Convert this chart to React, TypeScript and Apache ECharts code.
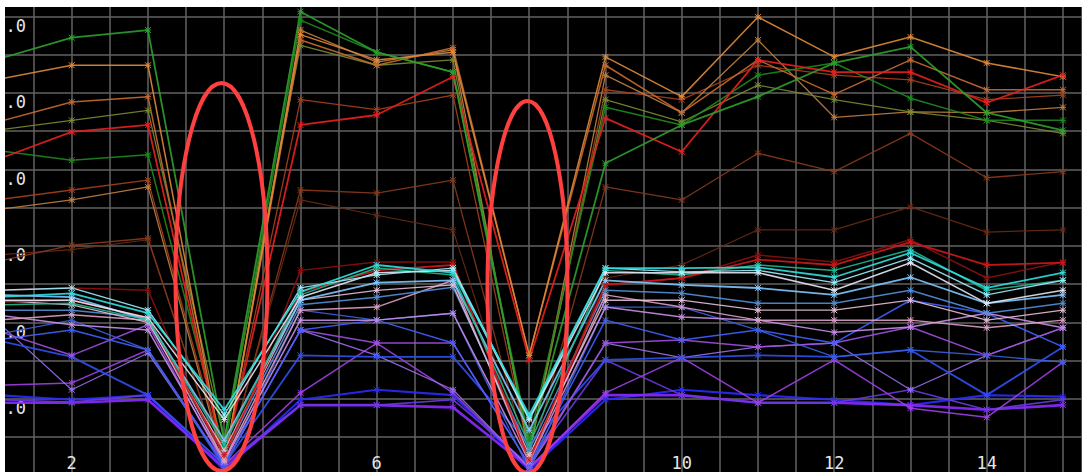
import { useEffect, useRef } from "react";
import * as echarts from "echarts";

// x positions of the samples
const xValues = [1, 2, 3, 4, 5, 6, 7, 8, 9, 10, 11, 12, 13, 14, 15];
// tick labels
const xTickLabels = ["2", "4", "6", "8", "10", "12", "14"];
const yTickValues = [1, 2, 3, 4, 5, 6];
const yTickText = ".0";

// upper (warm) series
const green1 = [5.43, 5.72, 5.82, 0.46, 6.06, 5.53, 5.27, 0.40, 4.08, 4.58, 4.95, 5.39, 5.60, 4.74, 4.51];
const orange1 = [5.17, 5.36, 5.36, 0.14, 5.76, 5.43, 5.53, 1.57, 5.47, 4.95, 5.99, 5.47, 5.73, 5.39, 5.21];
const orange2 = [4.61, 4.88, 4.95, 0.14, 5.69, 5.36, 5.59, 1.57, 5.36, 4.74, 5.43, 4.98, 5.43, 5.04, 5.04];
const red1 = [4.12, 4.49, 4.58, 0.20, 4.58, 4.71, 5.21, 1.51, 4.67, 4.23, 5.43, 5.27, 5.27, 4.87, 5.23];
const green2 = [4.25, 4.12, 4.19, 0.33, 5.95, 5.53, 5.27, 0.46, 4.81, 4.58, 5.23, 5.39, 4.93, 4.64, 4.64];
const tan1 = [3.47, 3.60, 3.77, 0.14, 5.82, 5.40, 5.56, 0.27, 5.23, 4.74, 5.69, 4.68, 4.75, 4.74, 4.81];
const brown1 = [2.79, 3.01, 3.10, 0.07, 3.73, 3.69, 3.86, 0.14, 3.77, 3.60, 4.21, 3.97, 4.47, 3.89, 3.97];
const olive1 = [4.51, 4.64, 4.77, 0.46, 5.62, 5.36, 5.43, 0.33, 4.91, 4.62, 5.10, 4.91, 4.75, 4.64, 4.47];
const rust1 = [3.60, 3.73, 3.86, 0.20, 4.91, 4.78, 4.97, 0.27, 5.04, 4.91, 5.36, 5.23, 5.17, 4.91, 4.97];
const brown2 = [2.88, 2.95, 3.08, 0.10, 3.60, 3.40, 3.21, 0.10, 2.58, 2.75, 3.21, 3.21, 3.51, 3.18, 3.21];
const darkRed1 = [2.42, 2.45, 2.42, 0.14, 2.68, 2.79, 2.79, 0.14, 2.49, 2.58, 2.88, 2.79, 3.08, 2.58, 2.79];

// lower (cool) series
const cyan1 = [2.33, 2.38, 2.12, 0.86, 2.40, 2.75, 2.65, 0.79, 2.71, 2.71, 2.72, 2.59, 2.91, 2.45, 2.65];
const white1 = [2.29, 2.29, 2.06, 0.73, 2.33, 2.65, 2.68, 0.73, 2.65, 2.65, 2.65, 2.42, 2.78, 2.25, 2.42];
const lightBlue1 = [2.36, 2.33, 2.03, 0.46, 2.29, 2.52, 2.55, 0.59, 2.55, 2.49, 2.45, 2.36, 2.59, 2.25, 2.36];
const red2 = [2.27, 2.29, 2.06, 0.27, 2.40, 2.68, 2.75, 0.20, 2.49, 2.58, 2.82, 2.75, 3.05, 2.75, 2.78];
const teal1 = [2.23, 2.25, 2.03, 0.40, 2.36, 2.71, 2.62, 0.40, 2.68, 2.62, 2.75, 2.68, 2.95, 2.42, 2.55];
const steel1 = [2.16, 2.16, 2.06, 0.27, 2.23, 2.33, 2.46, 0.33, 2.42, 2.38, 2.25, 2.25, 2.42, 2.12, 2.25];
const pink1 = [2.03, 2.10, 2.03, 0.20, 2.16, 2.20, 2.55, 0.20, 2.36, 2.20, 2.03, 2.03, 2.03, 1.93, 2.03];
const lavender1 = [2.10, 1.97, 1.90, 0.18, 2.03, 2.03, 2.12, 0.18, 2.20, 2.07, 2.03, 1.87, 1.94, 2.12, 1.93];
const blue1 = [1.77, 1.90, 1.64, 0.14, 1.90, 2.03, 1.73, 0.14, 2.03, 1.77, 1.90, 1.73, 2.29, 2.12, 1.68];
const purple1 = [1.90, 1.57, 1.97, 0.14, 1.90, 1.73, 1.73, 0.14, 1.73, 1.77, 1.68, 1.73, 1.94, 1.57, 1.93];
const blue2 = [1.77, 1.55, 1.05, 0.14, 1.57, 1.55, 1.55, 0.40, 1.51, 1.54, 1.57, 1.55, 1.64, 1.05, 1.68];
const purple2 = [1.18, 1.21, 1.64, 0.14, 1.08, 1.73, 1.08, 0.10, 1.08, 1.54, 0.95, 1.51, 0.88, 0.76, 1.48];
const purple3 = [0.95, 0.95, 0.99, 0.10, 0.92, 0.92, 0.89, 0.10, 1.05, 1.05, 0.95, 0.95, 0.92, 0.86, 0.92];
const violet1 = [0.99, 0.96, 1.05, 0.14, 0.92, 0.92, 0.99, 0.14, 1.51, 1.05, 0.95, 0.95, 1.12, 0.86, 0.99];
const blue3 = [1.84, 2.03, 1.64, 0.10, 2.16, 2.03, 2.12, 0.07, 2.20, 2.20, 1.90, 1.55, 1.64, 1.57, 1.48];
const violet2 = [2.03, 1.12, 1.60, 0.14, 1.90, 1.57, 1.12, 0.10, 1.73, 1.54, 1.68, 1.73, 1.12, 1.57, 1.93];
const cyan2 = [2.42, 2.45, 2.16, 0.79, 2.45, 2.62, 2.71, 0.75, 2.71, 2.66, 2.68, 2.52, 2.84, 2.36, 2.55];
const paleRose1 = [2.29, 2.23, 2.00, 0.33, 2.29, 2.42, 2.49, 0.27, 2.29, 2.29, 2.16, 2.16, 2.29, 2.03, 2.16];
const deepBlue1 = [1.05, 0.99, 1.05, 0.07, 0.99, 1.12, 1.05, 0.07, 0.99, 1.12, 1.05, 0.99, 0.92, 1.05, 1.03];

const seriesList = [
  { name: "brown2", values: brown2, color: "#6a2a14", width: 1.2 },
  { name: "darkRed1", values: darkRed1, color: "#8a1010", width: 1.5 },
  { name: "brown1", values: brown1, color: "#8a3a1c", width: 1.3 },
  { name: "rust1", values: rust1, color: "#a8401c", width: 1.3 },
  { name: "tan1", values: tan1, color: "#c08040", width: 1.3 },
  { name: "olive1", values: olive1, color: "#7a8a30", width: 1.3 },
  { name: "green2", values: green2, color: "#1f8a1f", width: 1.5 },
  { name: "orange2", values: orange2, color: "#c86a30", width: 1.5 },
  { name: "orange1", values: orange1, color: "#e08a3a", width: 1.5 },
  { name: "red1", values: red1, color: "#e82020", width: 1.8 },
  { name: "green1", values: green1, color: "#2ea02e", width: 1.8 },
  { name: "deepBlue1", values: deepBlue1, color: "#2a2aff", width: 2.2 },
  { name: "purple3", values: purple3, color: "#8a2aff", width: 2.6 },
  { name: "violet1", values: violet1, color: "#6a3ae0", width: 1.6 },
  { name: "purple2", values: purple2, color: "#a040e8", width: 1.5 },
  { name: "violet2", values: violet2, color: "#9a70f0", width: 1.2 },
  { name: "blue2", values: blue2, color: "#3050f0", width: 1.8 },
  { name: "purple1", values: purple1, color: "#a050e0", width: 1.5 },
  { name: "blue1", values: blue1, color: "#4060ff", width: 1.5 },
  { name: "blue3", values: blue3, color: "#3a60e0", width: 1.3 },
  { name: "lavender1", values: lavender1, color: "#c890e8", width: 1.5 },
  { name: "pink1", values: pink1, color: "#e0a0c8", width: 1.5 },
  { name: "steel1", values: steel1, color: "#5090d8", width: 1.5 },
  { name: "paleRose1", values: paleRose1, color: "#e8c0d8", width: 1.3 },
  { name: "red2", values: red2, color: "#d01818", width: 1.8 },
  { name: "lightBlue1", values: lightBlue1, color: "#80c8ff", width: 1.8 },
  { name: "teal1", values: teal1, color: "#20b890", width: 1.5 },
  { name: "white1", values: white1, color: "#e8e8f4", width: 1.5 },
  { name: "cyan2", values: cyan2, color: "#a0f0ff", width: 1.3 },
  { name: "cyan1", values: cyan1, color: "#30e0e0", width: 1.8 },
];

const markerPath = "path://M0 0L10 10M10 0L0 10M5 0L5 10M0 5L10 5";

export default function App() {
  const ref = useRef<HTMLDivElement>(null);
  useEffect(() => {
    if (!ref.current) return;
    const chart = echarts.init(ref.current, undefined, { renderer: "svg" });
    chart.setOption({
      animation: false,
      backgroundColor: "#000000",
      grid: {
        left: -9.5,
        right: 0,
        top: -29,
        bottom: -3.5,
        containLabel: false,
        outerBoundsMode: "none",
      },
      xAxis: {
        type: "value",
        min: 1,
        max: 15.25,
        interval: 0.5,
        axisLine: { show: false },
        axisTick: { show: false },
        splitLine: { show: true, lineStyle: { color: "#626262", width: 1.5 } },
        axisLabel: {
          inside: true,
          interval: 0,
          margin: 4,
          color: "#e6e6e6",
          fontFamily: "DejaVu Sans Mono",
          fontSize: 17,
          showMinLabel: true,
          showMaxLabel: true,
          formatter: (v: number) => (xTickLabels.includes(String(v)) ? String(v) : ""),
        },
      },
      yAxis: {
        type: "value",
        min: 0,
        max: 6.5,
        interval: 0.5,
        axisLine: { show: false },
        axisTick: { show: false },
        splitLine: { show: true, lineStyle: { color: "#626262", width: 1.5 } },
        axisLabel: {
          inside: true,
          margin: 10,
          color: "#e6e6e6",
          fontFamily: "DejaVu Sans Mono",
          fontSize: 17,
          verticalAlign: "top",
          padding: [1, 0, 0, 0],
          showMinLabel: true,
          showMaxLabel: true,
          formatter: (v: number) => (yTickValues.includes(v) ? yTickText : ""),
        },
      },
      series: seriesList.map((s) => ({
        name: s.name,
        type: "line",
        clip: true,
        data: s.values.map((v, i) => [xValues[i], v]),
        symbol: markerPath,
        symbolSize: 6,
        showSymbol: true,
        lineStyle: { color: s.color, width: s.width, opacity: 0.9 },
        itemStyle: { color: s.color, borderColor: s.color, borderWidth: 1 },
      })),
      graphic: [
        {
          type: "ellipse",
          z: 100,
          shape: { cx: 216.5, cy: 270, rx: 46, ry: 194 },
          style: { stroke: "#ff4040", lineWidth: 4, fill: "none" },
        },
        {
          type: "ellipse",
          z: 100,
          shape: { cx: 522.5, cy: 280, rx: 40, ry: 186 },
          style: { stroke: "#ff4040", lineWidth: 4, fill: "none" },
        },
      ],
    });
    return () => chart.dispose();
  }, []);
  return (
    <div style={{ position: "fixed", left: 0, top: 0, width: 1082, height: 472, background: "#ffffff" }}>
      <div
        ref={ref}
        style={{ position: "absolute", left: 5, top: 7, width: 1077, height: 465, background: "#000000" }}
      />
    </div>
  );
}
